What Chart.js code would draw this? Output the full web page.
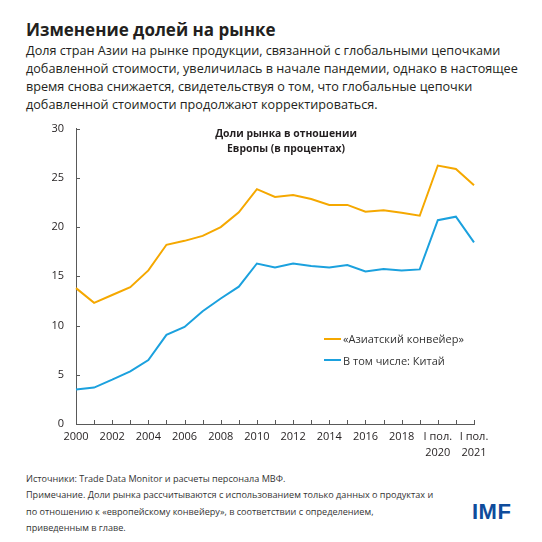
<!DOCTYPE html>
<html>
<head>
<meta charset="utf-8">
<script src="https://cdn.jsdelivr.net/npm/chart.js@4"></script>
<style>
  body { margin: 0; width: 542px; height: 542px; background: #fff; font-family: 'Open Sans', sans-serif; color: #231f20; overflow: hidden; }
  .wrap { position: relative; width: 542px; height: 542px; }
  h1 { position: absolute; left: 26px; top: 19px; margin: 0; font-size: 17px; font-weight: 700; line-height: 22px; }
  .sub { position: absolute; left: 26px; top: 41px; margin: 0; font-size: 12.65px; line-height: 18px; }
  .chart-box { position: absolute; left: 0; top: 110px; width: 542px; height: 360px; }
  .ctitle { position: absolute; left: 186px; width: 200px; top: 126px; text-align: center; font-size: 10.4px; font-weight: 700; line-height: 15px; }
  .legend { position: absolute; left: 324px; top: 328px; font-size: 11px; color: #333; }
  .legend div { height: 21.5px; display: flex; align-items: center; }
  .legend span.sw { display: inline-block; width: 17px; height: 2px; margin-right: 2px; }
  .foot { position: absolute; left: 26px; top: 471px; font-size: 9.1px; line-height: 16.3px; color: #333; }
  .logo { position: absolute; left: 472px; top: 499px; font-family: 'Liberation Sans', Arial, sans-serif; font-weight: 700; font-size: 22px; color: #0f4c9c; letter-spacing: 0.5px; }
</style>
</head>
<body>
<div class="wrap">
  <h1>Изменение долей на рынке</h1>
  <p class="sub">Доля стран Азии на рынке продукции, связанной с глобальными цепочками<br>добавленной стоимости, увеличилась в начале пандемии, однако в настоящее<br>время снова снижается, свидетельствуя о том, что глобальные цепочки<br>добавленной стоимости продолжают корректироваться.</p>
  <div class="chart-box"><canvas id="shareChart" width="542" height="360"></canvas></div>
  <div class="ctitle">Доли рынка в отношении<br>Европы (в процентах)</div>
  <div class="legend" id="legend"></div>
  <div class="foot">Источники: Trade Data Monitor и расчеты персонала МВФ.<br>Примечание. Доли рынка рассчитываются с использованием только данных о продуктах и<br>по отношению к «европейскому конвейеру», в соответствии с определением,<br>приведенным в главе.</div>
  <div class="logo">IMF</div>
</div>
<script>
const periods = ['2000', '2001', '2002', '2003', '2004', '2005', '2006', '2007', '2008', '2009',
    '2010', '2011', '2012', '2013', '2014', '2015', '2016', '2017', '2018', '2019',
    'I пол. 2020', 'II пол. 2020', 'I пол. 2021'];

// only every other period gets a label
const tickLabels = ['2000', '', '2002', '', '2004', '', '2006', '', '2008', '',
    '2010', '', '2012', '', '2014', '', '2016', '', '2018', '',
    ['I пол.', '2020'], '', ['I пол.', '2021']];

const asiaShare = [13.8, 12.3, 13.1, 13.9, 15.6, 18.2, 18.6, 19.1, 20.0, 21.5,
    23.85, 23.05, 23.25, 22.85, 22.25, 22.25, 21.55, 21.7, 21.45, 21.15,
    26.25, 25.9, 24.25];

const chinaShare = [3.5, 3.7, 4.5, 5.35, 6.5, 9.05, 9.85, 11.45, 12.75, 13.95,
    16.3, 15.9, 16.3, 16.05, 15.9, 16.15, 15.5, 15.75, 15.6, 15.7,
    20.7, 21.05, 18.45];

const seriesNames = ['«Азиатский конвейер»', 'В том числе: Китай'];
const seriesColors = ['#f5a800', '#1ba1de'];

const axisColor = '#595959';
const tickFont = { family: "'Open Sans', sans-serif", size: 11 };

// tick marks drawn inward, like the original
const innerTicks = {
    id: 'innerTicks',
    afterDraw(chart) {
        const ctx = chart.ctx;
        const x = chart.scales.x;
        const y = chart.scales.y;
        ctx.save();
        ctx.strokeStyle = axisColor;
        ctx.lineWidth = 1;
        ctx.beginPath();
        periods.forEach((_, i) => {
            const px = Math.round(x.getPixelForValue(i)) + 0.5;
            ctx.moveTo(px, y.bottom);
            ctx.lineTo(px, y.bottom - 4);
        });
        y.ticks.forEach(t => {
            const py = Math.round(y.getPixelForValue(t.value)) + 0.5;
            ctx.moveTo(x.left, py);
            ctx.lineTo(x.left + 4, py);
        });
        ctx.stroke();
        ctx.restore();
    }
};

new Chart(document.getElementById('shareChart').getContext('2d'), {
    type: 'line',
    data: {
        labels: periods,
        datasets: [{
            label: seriesNames[0],
            data: asiaShare,
            borderColor: seriesColors[0],
            backgroundColor: seriesColors[0],
            borderWidth: 2,
            pointRadius: 0,
            tension: 0
        }, {
            label: seriesNames[1],
            data: chinaShare,
            borderColor: seriesColors[1],
            backgroundColor: seriesColors[1],
            borderWidth: 2,
            pointRadius: 0,
            tension: 0
        }]
    },
    options: {
        responsive: false,
        animation: false,
        layout: { padding: { top: 17, right: 68, left: 0, bottom: 0 } },
        plugins: {
            legend: { display: false },
            tooltip: { enabled: false }
        },
        scales: {
            x: {
                offset: false,
                grid: { display: false, drawTicks: false },
                border: { display: true, color: axisColor, width: 1 },
                ticks: {
                    autoSkip: false,
                    maxRotation: 0,
                    minRotation: 0,
                    padding: 5,
                    color: '#231f20',
                    font: { ...tickFont, lineHeight: 1.45 },
                    callback: (val, i) => tickLabels[i]
                },
                afterFit(scale) { scale.height = 46; }
            },
            y: {
                min: 0,
                max: 30,
                grid: { display: false, drawTicks: false },
                border: { display: true, color: axisColor, width: 1 },
                ticks: {
                    stepSize: 5,
                    padding: 12,
                    color: '#231f20',
                    font: tickFont
                },
                afterFit(scale) { scale.width = 76; }
            }
        }
    },
    plugins: [innerTicks]
});

document.getElementById('legend').innerHTML = seriesNames.map((name, i) =>
    `<div><span class="sw" style="background:${seriesColors[i]}"></span>${name}</div>`).join('');
</script>
</body>
</html>
